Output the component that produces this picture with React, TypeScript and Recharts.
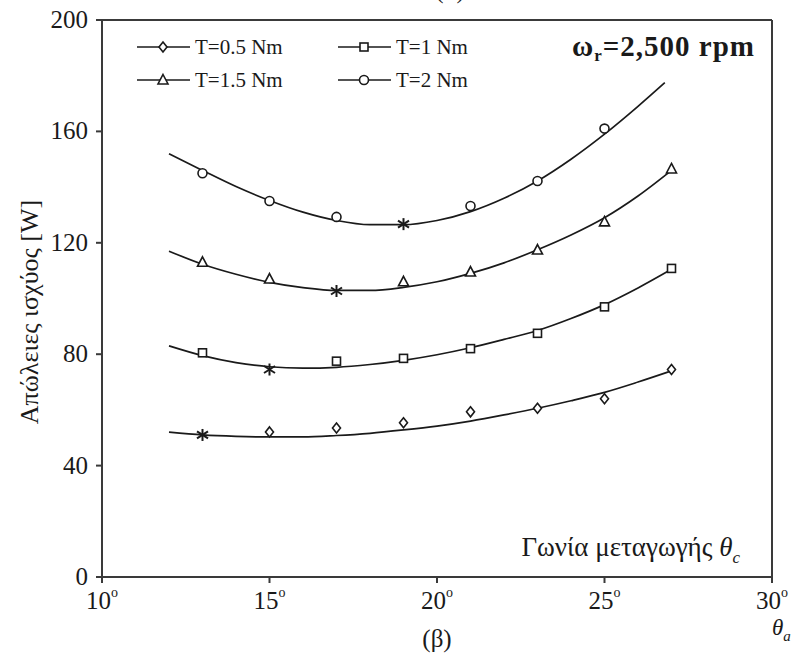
import React from 'react';
import { ComposedChart, Line, Scatter, XAxis, YAxis, ReferenceLine } from 'recharts';

const xTicks = [10, 15, 20, 25, 30];
const yTicks = [0, 40, 80, 120, 160, 200];
const seriesNames = ['T=0.5 Nm', 'T=1 Nm', 'T=1.5 Nm', 'T=2 Nm'];

// fitted curves
const fitAngles = [12, 13, 14, 15, 16, 17, 18, 19, 20, 21, 22, 23, 24, 25, 26, 27];
const fitT05 = [52, 51, 50.5, 50.3, 50.3, 50.8, 51.6, 52.8, 54.2, 56, 58.2, 60.6, 63.3, 66.3, 70, 74];
const fitT1 = [83, 79.5, 77, 75.5, 75, 75.3, 76.3, 77.8, 79.8, 82.3, 85.3, 88.5, 92.8, 97.8, 103.8, 110.5];
const fitT15 = [117, 112.3, 108.7, 105.8, 103.9, 102.9, 102.9, 104, 106, 109, 112.8, 117.5, 122.8, 129, 136.8, 146];
const fitAnglesT2 = [12, 13, 14, 15, 16, 17, 18, 19, 20, 21, 22, 23, 24, 25, 26, 26.8];
const fitT2 = [152, 146, 140.2, 135.2, 131, 128, 126.5, 126.5, 128, 131.2, 136, 142.2, 150, 159, 169, 177.5];

// measured points
const ptAnglesT05 = [15, 17, 19, 21, 23, 25, 27];
const ptT05 = [52.1, 53.5, 55.4, 59.3, 60.6, 64, 74.5];
const ptAnglesT1 = [13, 17, 19, 21, 23, 25, 27];
const ptT1 = [80.5, 77.5, 78.5, 82, 87.5, 97, 110.8];
const ptAnglesT15 = [13, 15, 19, 21, 23, 25, 27];
const ptT15 = [113, 107, 106, 109.5, 117.4, 127.5, 146.5];
const ptAnglesT2 = [13, 15, 17, 21, 23, 25];
const ptT2 = [145, 135, 129.3, 133.2, 142.2, 161];
// optimum points (asterisks)
const optAngles = [13, 15, 17, 19];
const optLosses = [51, 74.5, 102.7, 126.7];

const toPts = (xs: number[], ys: number[]) => xs.map((x, i) => ({ x, y: ys[i] }));

const INK = '#1a1a1a';
const AXIS = '#3a3a3a';
const SERIF = 'Liberation Serif, Tinos, DejaVu Serif, serif';

type MP = { cx: number; cy: number };

const DiamondMark = ({ cx, cy }: MP) => (
  <path d={`M${cx},${cy - 5}L${cx + 4},${cy}L${cx},${cy + 5}L${cx - 4},${cy}Z`} fill="#fff" stroke={INK} strokeWidth={1.6} />
);
const SquareMark = ({ cx, cy }: MP) => (
  <rect x={cx - 4} y={cy - 4} width={8} height={8} fill="#fff" stroke={INK} strokeWidth={1.6} />
);
const TriangleMark = ({ cx, cy }: MP) => (
  <path d={`M${cx},${cy - 5.5}L${cx + 5},${cy + 4}L${cx - 5},${cy + 4}Z`} fill="#fff" stroke={INK} strokeWidth={1.6} />
);
const CircleMark = ({ cx, cy }: MP) => <circle cx={cx} cy={cy} r={4.5} fill="#fff" stroke={INK} strokeWidth={1.6} />;
const StarMark = ({ cx, cy }: MP) => (
  <g stroke={INK} strokeWidth={2}>
    <line x1={cx} y1={cy - 6} x2={cx} y2={cy + 6} />
    <line x1={cx - 5.5} y1={cy - 3.5} x2={cx + 5.5} y2={cy + 3.5} />
    <line x1={cx - 5.5} y1={cy + 3.5} x2={cx + 5.5} y2={cy - 3.5} />
  </g>
);

const markers = [DiamondMark, SquareMark, TriangleMark, CircleMark];

const serifStyle = { fontFamily: SERIF };

const XTick = (props: any) => {
  const { x, y, payload } = props;
  return (
    <text x={x} y={y + 24} textAnchor="middle" style={serifStyle} fontSize={25} fill={INK}>
      <tspan>{payload.value}</tspan>
      <tspan fontSize={14} dy={-12}>o</tspan>
    </text>
  );
};

const YTick = (props: any) => {
  const { x, y, payload } = props;
  return (
    <text x={x} y={y} dy={8} textAnchor="end" style={serifStyle} fontSize={25} fill={INK}>
      {payload.value}
    </text>
  );
};

const fits = [
  toPts(fitAngles, fitT05),
  toPts(fitAngles, fitT1),
  toPts(fitAngles, fitT15),
  toPts(fitAnglesT2, fitT2),
];
const points = [
  toPts(ptAnglesT05, ptT05),
  toPts(ptAnglesT1, ptT1),
  toPts(ptAnglesT15, ptT15),
  toPts(ptAnglesT2, ptT2),
];
const optimum = toPts(optAngles, optLosses);

const legendPos = [
  { x: 137, y: 47 },
  { x: 338, y: 47 },
  { x: 137, y: 80 },
  { x: 338, y: 80 },
];

export default function App() {
  return (
    <div style={{ position: 'absolute', left: 0, top: 0, width: 795, height: 654, background: '#fff' }}>
      <ComposedChart width={795} height={654} margin={{ top: 20, right: 23, bottom: 47, left: 42 }}>
        <XAxis
          type="number"
          dataKey="x"
          domain={[10, 30]}
          ticks={xTicks}
          interval={0}
          height={30}
          tickSize={6}
          tickMargin={2}
          tick={<XTick />}
          tickLine={{ stroke: AXIS, strokeWidth: 2 }}
          axisLine={{ stroke: AXIS, strokeWidth: 2 }}
          allowDataOverflow
        />
        <YAxis
          type="number"
          dataKey="y"
          domain={[0, 200]}
          ticks={yTicks}
          interval={0}
          width={60}
          tickSize={6}
          tickMargin={8}
          tick={<YTick />}
          tickLine={{ stroke: AXIS, strokeWidth: 2 }}
          axisLine={{ stroke: AXIS, strokeWidth: 2 }}
          allowDataOverflow
        />
        <ReferenceLine y={200} stroke={AXIS} strokeWidth={2} />
        <ReferenceLine x={30} stroke={AXIS} strokeWidth={2} />
        {fits.map((d, i) => (
          <Line
            key={'fit' + i}
            data={d}
            dataKey="y"
            name={seriesNames[i] + ' fit'}
            type="monotone"
            stroke={INK}
            strokeWidth={1.7}
            dot={false}
            activeDot={false}
            isAnimationActive={false}
          />
        ))}
        {points.map((d, i) => {
          const M = markers[i];
          return (
            <Scatter
              key={'pts' + i}
              data={d}
              dataKey="y"
              name={seriesNames[i]}
              isAnimationActive={false}
              shape={(p: any) => <M cx={p.cx} cy={p.cy} />}
            />
          );
        })}
        <Scatter
          data={optimum}
          dataKey="y"
          name="optimum"
          isAnimationActive={false}
          shape={(p: any) => <StarMark cx={p.cx} cy={p.cy} />}
        />
      </ComposedChart>
      <svg width={795} height={654} style={{ position: 'absolute', left: 0, top: 0, overflow: 'visible', pointerEvents: 'none', fontFamily: SERIF }}>
        <text x={450} y={-2} textAnchor="middle" fontSize={25} fill={INK}>(α)</text>
        {seriesNames.map((name, i) => {
          const M = markers[i];
          const p = legendPos[i];
          return (
            <g key={name}>
              <line x1={p.x} y1={p.y} x2={p.x + 53} y2={p.y} stroke={INK} strokeWidth={1.7} />
              <M cx={p.x + 26} cy={p.y} />
              <text x={p.x + 58} y={p.y + 7} fontSize={21} fill={INK}>{name}</text>
            </g>
          );
        })}
        <text x={755} y={56} textAnchor="end" fontSize={29} fontWeight="bold" letterSpacing={1} fill={INK}>
          <tspan>ω</tspan>
          <tspan fontSize={17} dy={5}>r</tspan>
          <tspan dy={-5}>=2,500 rpm</tspan>
        </text>
        <text x={740} y={556} textAnchor="end" fontSize={27} fill={INK}>
          <tspan>Γωνία μεταγωγής </tspan>
          <tspan fontStyle="italic">θ</tspan>
          <tspan fontStyle="italic" fontSize={17} dy={7}>c</tspan>
        </text>
        <text x={437} y={647} textAnchor="middle" fontSize={25} fill={INK}>(β)</text>
        <text x={772} y={635} fontSize={23} fontStyle="italic" fill={INK}>
          <tspan>θ</tspan>
          <tspan fontSize={15} dy={6}>a</tspan>
        </text>
        <text transform="translate(38,312) rotate(-90)" textAnchor="middle" fontSize={26} fill={INK}>
          Απώλειες ισχύος [W]
        </text>
      </svg>
    </div>
  );
}
